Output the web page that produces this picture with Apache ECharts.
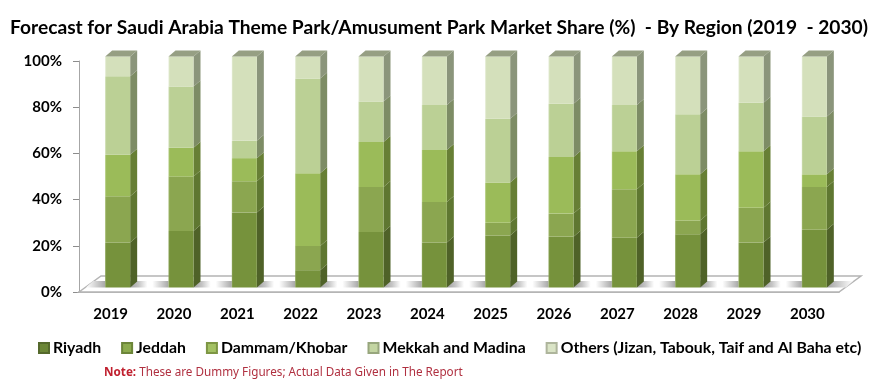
<!DOCTYPE html>
<html>
<head>
<meta charset="utf-8">
<style>
html, body { margin: 0; padding: 0; background: #fff; }
#chart { width: 893px; height: 387px; }
</style>
<script src="https://cdn.jsdelivr.net/npm/echarts@6/dist/echarts.min.js"></script>
</head>
<body>
<div id="chart"></div>
<script>
const years = ['2019', '2020', '2021', '2022', '2023', '2024', '2025', '2026', '2027', '2028', '2029', '2030'];
const riyadh = [19.5, 24.5, 32.5, 7.5, 24, 19.5, 22.5, 22, 21.5, 23, 19.5, 25];
const jeddah = [20, 23.5, 13.5, 10.5, 19.5, 17.5, 5.5, 10, 21, 6, 15, 18.5];
const dammam = [18, 12.5, 10, 31.5, 19.5, 22.5, 17.5, 24.5, 16.5, 20, 24.5, 5.5];
const mekkah = [34, 26.5, 7.5, 41, 17.5, 19.5, 27.5, 23, 20, 26, 21, 25];
const others = [8.5, 13, 36.5, 9.5, 19.5, 21, 27, 20.5, 21, 25, 20, 26];

const regions = [
    { name: 'Riyadh', values: riyadh, front: '#76923c', edge: '#8aa356', side: '#4f6228', legend: '#6b8636', border: '#55692c' },
    { name: 'Jeddah', values: jeddah, front: '#8ba650', edge: '#a0b76c', side: '#5f7731', legend: '#8cab4e', border: '#6c8539' },
    { name: 'Dammam/Khobar', values: dammam, front: '#9bbb59', edge: '#b0ca7c', side: '#677f35', legend: '#a3c163', border: '#7d9644' },
    { name: 'Mekkah and Madina', values: mekkah, front: '#bbd095', edge: '#ccdcb0', side: '#7d8c65', legend: '#c3d5a2', border: '#97a67d' },
    { name: 'Others (Jizan, Tabouk, Taif and Al Baha etc)', values: others, front: '#d4e0bb', edge: '#e3ebd3', side: '#8b957b', legend: '#dae4c6', border: '#aeb59c' }
];

const chart = echarts.init(document.getElementById('chart'));

// 3d look of the bars, pixels
const barW = 25;
const depthX = 7;
const depthY = 6;
const shiftX = 7;
const shiftY = -4.5;

function barItem(region, seriesIndex) {
    return (params, api) => {
        const i = api.value(0);
        const p0 = api.coord([i, api.value(1)]);
        const p1 = api.coord([i, api.value(2)]);
        const x0 = p0[0] - barW / 2 + shiftX;
        const x1 = x0 + barW;
        const y0 = p0[1] + shiftY;
        const y1 = p1[1] + shiftY;
        const children = [
            {
                type: 'polygon',
                shape: { points: [[x1, y0], [x1 + depthX, y0 - depthY], [x1 + depthX, y1 - depthY], [x1, y1]] },
                style: { fill: region.side }
            },
            {
                type: 'rect',
                shape: { x: x0, y: y1, width: barW, height: y0 - y1 },
                style: {
                    fill: new echarts.graphic.LinearGradient(0, 0, 1, 0, [
                        { offset: 0, color: region.edge },
                        { offset: 0.06, color: region.front },
                        { offset: 1, color: region.front }
                    ])
                }
            }
        ];
        if (seriesIndex === regions.length - 1) {
            children.push({
                type: 'polygon',
                shape: { points: [[x0, y1], [x0 + depthX, y1 - depthY], [x1 + depthX, y1 - depthY], [x1, y1]] },
                style: { fill: '#969f83' }
            });
        }
        return { type: 'group', children };
    };
}

function shadowFill(stops) {
    return new echarts.graphic.LinearGradient(0, 0, 1, 0, stops);
}

// floor of the plot with the soft shadow between the bars
function floorItem(params, api) {
    if (params.dataIndex !== 0) return null;
    const c = params.coordSys;
    const l = c.x, r = c.x + c.width, b = c.y + c.height;
    const dx = 22, dy = 16;
    const step = c.width / years.length;
    const children = [{
        type: 'polygon',
        shape: { points: [[l, b], [l + dx, b - dy], [r + dx, b - dy], [r, b]] },
        style: { fill: '#fff', stroke: '#b4b4b4', lineWidth: 1.5 }
    }];
    const bandY = b - 11;
    const bandH = 6.5;
    // before the first bar
    const firstX = l + step / 2 + shiftX - barW / 2;
    children.push({
        type: 'polygon',
        shape: { points: [[l + 14, bandY], [firstX, bandY], [firstX, bandY + bandH], [l + 7, bandY + bandH]] },
        style: { fill: shadowFill([{ offset: 0, color: '#ffffff' }, { offset: 1, color: '#a8a8a8' }]) }
    });
    years.forEach((y, i) => {
        const x = l + step * i + step / 2 + shiftX + barW / 2;
        if (i < years.length - 1) {
            children.push({
                type: 'rect',
                shape: { x: x, y: bandY, width: step - barW, height: bandH },
                style: {
                    fill: shadowFill([
                        { offset: 0, color: '#a0a0a0' },
                        { offset: 0.22, color: '#c4c4c4' },
                        { offset: 0.45, color: '#ffffff' },
                        { offset: 0.58, color: '#ffffff' },
                        { offset: 1, color: '#a8a8a8' }
                    ])
                }
            });
        } else {
            children.push({
                type: 'polygon',
                shape: { points: [[x, bandY], [r + 14, bandY], [r + 7, bandY + bandH], [x, bandY + bandH]] },
                style: { fill: shadowFill([{ offset: 0, color: '#a0a0a0' }, { offset: 1, color: '#ffffff' }]) }
            });
        }
    });
    return { type: 'group', children };
}

const series = [{
    type: 'custom',
    name: 'floor',
    silent: true,
    z: 1,
    renderItem: floorItem,
    data: [[0, 0]],
    encode: { x: 0, y: 1 }
}];

regions.forEach((region, s) => {
    const data = years.map((y, i) => {
        let base = 0;
        for (let k = 0; k < s; k++) base += regions[k].values[i];
        return [i, base, base + region.values[i]];
    });
    series.push({
        type: 'custom',
        name: region.name,
        z: 2,
        itemStyle: { color: region.legend, borderColor: region.border, borderWidth: 1 },
        renderItem: barItem(region, s),
        encode: { x: 0, y: [1, 2] },
        data
    });
});

chart.setOption({
    animation: false,
    textStyle: { fontFamily: 'Lato' },
    title: {
        text: 'Forecast for Saudi Arabia Theme Park/Amusument Park Market Share (%)  - By Region (2019  - 2030)',
        left: 10,
        top: 18,
        padding: 0,
        textStyle: { fontFamily: 'Lato', fontWeight: 'bold', fontSize: 19.2, color: '#000' }
    },
    grid: { left: 79, right: 54, top: 61, bottom: 95 },
    xAxis: {
        type: 'category',
        data: years,
        axisLine: { lineStyle: { color: '#a6a6a6', width: 1.5 } },
        axisTick: { length: 6, lineStyle: { color: '#8c8c8c', width: 1 } },
        axisLabel: { color: '#000', fontWeight: 'bold', fontSize: 15, margin: 15 }
    },
    yAxis: {
        type: 'value',
        min: 0,
        max: 100,
        interval: 20,
        splitLine: { show: false },
        axisLine: { show: true, lineStyle: { color: '#a6a6a6', width: 1 } },
        axisTick: { show: true, length: 6, lineStyle: { color: '#8c8c8c' } },
        axisLabel: { formatter: '{value}%', color: '#000', fontWeight: 'bold', fontSize: 15, margin: 17 }
    },
    legend: {
        data: regions.map(r => r.name),
        left: 38,
        top: 340,
        padding: 0,
        itemWidth: 10,
        itemHeight: 10,
        itemGap: 20,
        icon: 'rect',
        textStyle: { color: '#000', fontWeight: 'bold', fontSize: 15.8, padding: [0, 0, 0, -1] }
    },
    graphic: [{
        type: 'text',
        left: 104,
        top: 367,
        style: {
            text: '{b|Note:} These are Dummy Figures; Actual Data Given in The Report',
            rich: { b: { fontWeight: 'bold', fill: '#c0202f', fontFamily: 'Noto Sans', fontSize: 11.7 } },
            fill: '#b03040',
            font: '11.7px "Noto Sans"'
        }
    }],
    series
});
</script>
</body>
</html>
